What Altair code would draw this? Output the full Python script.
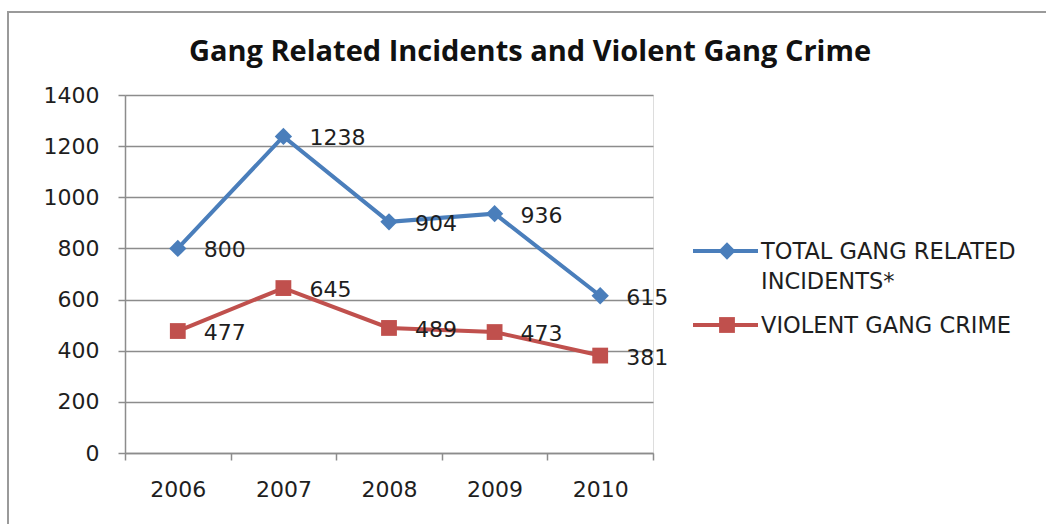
import altair as alt
import pandas as pd

years = ["2006", "2007", "2008", "2009", "2010"]
total_incidents = [800, 1238, 904, 936, 615]
violent_crime = [477, 645, 489, 473, 381]
series_names = ["TOTAL GANG RELATED INCIDENTS*", "VIOLENT GANG CRIME"]
series_colors = ["#4A7EBB", "#C0504D"]
series_shapes = ["diamond", "square"]
y_ticks = [0, 200, 400, 600, 800, 1000, 1200, 1400]

rows = []
for y, v in zip(years, total_incidents):
    rows.append({"year": y, "value": v, "series": series_names[0]})
for y, v in zip(years, violent_crime):
    rows.append({"year": y, "value": v, "series": series_names[1]})
df = pd.DataFrame(rows)

W, H = 528, 358
FONT = "DejaVu Sans"
FS = 22
GRID = "#8c8c8c"
TXT = "#1e1e1e"

xenc = alt.X("year:N", bandPosition=0.5,
             scale=alt.Scale(type="band", domain=years, paddingInner=0, paddingOuter=0),
             axis=alt.Axis(title=None, labelAngle=0, tickBand="extent", tickSize=7,
                           tickColor=GRID, tickWidth=1.5, domainColor=GRID, domainWidth=1.5,
                           labelFont=FONT, labelFontSize=FS, labelColor=TXT,
                           labelPadding=19, grid=False))
yenc = alt.Y("value:Q", scale=alt.Scale(domain=[0, 1400], nice=False),
             axis=alt.Axis(title=None, values=y_ticks, format="d", grid=True, gridColor=GRID,
                           gridWidth=1.5, tickSize=7, tickColor=GRID, tickWidth=1.5,
                           domainColor=GRID, domainWidth=1.5, labelFont=FONT, labelFontSize=FS,
                           labelColor=TXT, labelPadding=19))
cenc = alt.Color("series:N", scale=alt.Scale(domain=series_names, range=series_colors), legend=None)
senc = alt.Shape("series:N", scale=alt.Scale(domain=series_names, range=series_shapes), legend=None)
sizeenc = alt.Size("series:N", scale=alt.Scale(domain=series_names, range=[300, 250]), legend=None)

base = alt.Chart(df)
lines = base.mark_line(strokeWidth=4).encode(x=xenc, y=yenc, color=cenc)
points = base.mark_point(filled=True, opacity=1).encode(x=xenc, y=yenc, color=cenc, shape=senc,
                                                        size=sizeenc)
labels = base.mark_text(align="left", baseline="middle", dx=26, dy=2, font=FONT,
                        fontSize=FS, color=TXT).encode(x=xenc, y=yenc, text="value:Q")

one = pd.DataFrame({"k": [0]})
border = alt.Chart(one).mark_rect(fill=None, stroke="#9a9a9a", strokeWidth=2).encode(
    x=alt.value(-117), x2=alt.value(930), y=alt.value(-83), y2=alt.value(440))
title = alt.Chart(one).mark_text(font="Open Sans", fontWeight="bold", fontSize=29, color="#111",
                                 align="center", baseline="middle").encode(
    x=alt.value(405), y=alt.value(-43), text=alt.value("Gang Related Incidents and Violent Gang Crime"))

leg = []
leg_y = [156, 230]
leg_size = [300, 250]
leg_text = [["TOTAL GANG RELATED", "INCIDENTS*"], ["VIOLENT GANG CRIME"]]
for i in range(2):
    d = pd.DataFrame({"series": [series_names[i]]})
    leg.append(alt.Chart(d).mark_rule(strokeWidth=4, color=series_colors[i]).encode(
        x=alt.value(568), x2=alt.value(633), y=alt.value(leg_y[i])))
    leg.append(alt.Chart(d).mark_point(filled=True, opacity=1, size=leg_size[i],
                                       shape=series_shapes[i], color=series_colors[i]).encode(
        x=alt.value(602), y=alt.value(leg_y[i])))
    for j, t in enumerate(leg_text[i]):
        leg.append(alt.Chart(d).mark_text(align="left", baseline="middle", font=FONT, fontSize=22.5,
                                          color=TXT).encode(
            x=alt.value(636), y=alt.value(leg_y[i] + 1 + j * 30), text=alt.value(t)))

chart = alt.layer(border, title, lines, points, labels, *leg).properties(
    width=W, height=H,
    autosize=alt.AutoSizeParams(type="none"),
    padding={"left": 125, "top": 95, "right": 393, "bottom": 71},
).configure_view(stroke=None).configure(background="white")

chart.save("out.html", embed_options={"renderer": "svg", "actions": False})
